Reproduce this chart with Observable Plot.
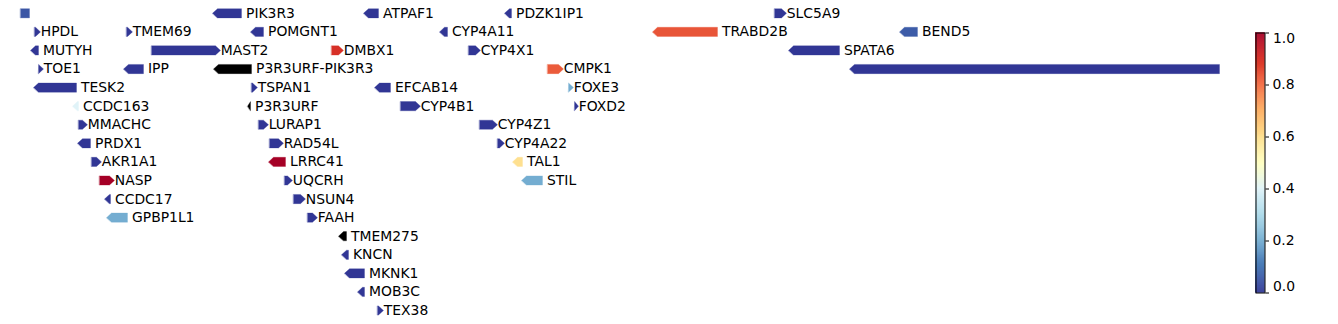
<!DOCTYPE html>
<html><head><meta charset="utf-8">
<script src="https://cdn.jsdelivr.net/npm/d3@7"></script>
<script src="https://cdn.jsdelivr.net/npm/@observablehq/plot@0.6"></script>
<style>
body{margin:0;background:#fff;}
#wrap{position:relative;width:1338px;height:324px;overflow:hidden;}
#wrap > svg{position:absolute;left:0;top:0;}
</style></head><body><div id="wrap"></div>
<script>
// Gene track data (positions in track units)
const genes   = ["", "PIK3R3","ATPAF1","PDZK1IP1","SLC5A9",
  "HPDL","TMEM69","POMGNT1","CYP4A11","TRABD2B","BEND5",
  "MUTYH","MAST2","DMBX1","CYP4X1","SPATA6",
  "TOE1","IPP","P3R3URF-PIK3R3","CMPK1","",
  "TESK2","TSPAN1","EFCAB14","FOXE3",
  "CCDC163","P3R3URF","CYP4B1","FOXD2",
  "MMACHC","LURAP1","CYP4Z1",
  "PRDX1","RAD54L","CYP4A22",
  "AKR1A1","LRRC41","TAL1",
  "NASP","UQCRH","STIL",
  "CCDC17","NSUN4",
  "GPBP1L1","FAAH",
  "TMEM275","KNCN","MKNK1","MOB3C","TEX38"];
const starts  = [20,212,363,504,774, 34,126,250,439,652,899, 30,151,331,468,788, 38,123,213,547,849,
  33,251,374,568, 72,247,400,574, 78,258,479, 77,269,497, 91,268,512, 99,284,521, 104,293, 106,307,
  338,341,344,357,377];
const ends    = [29,241,378,511,786, 40,132,263,447,717,917, 38,220,343,480,839, 43,143,251,563,1219,
  76,257,390,573, 78,250,420,578, 87,268,497, 90,283,504, 101,285,522, 114,292,542, 110,305, 127,317,
  346,348,364,364,383];
const strands = [0,-1,-1,-1,1, 1,1,-1,-1,-1,-1, -1,1,1,1,-1, 1,-1,-1,1,-1,
  -1,1,-1,1, -1,-1,1,1, 1,1,1, -1,1,1, 1,-1,-1, 1,1,-1, -1,1, -1,1,
  -1,-1,-1,-1,1];
const rows    = [0,0,0,0,0, 1,1,1,1,1,1, 2,2,2,2,2, 3,3,3,3,3, 4,4,4,4, 5,5,5,5, 6,6,6, 7,7,7,
  8,8,8, 9,9,9, 10,10, 11,11, 12,13,14,15,16];
const values  = [0.05,0,0,0,0, 0,0,0,0,0.84,0.06, 0,0,0.9,0,0, 0,0,null,0.83,0,
  0,0,0,0.2, 0.4,null,0,0, 0,0,0, 0,0,0, 0,1.0,0.6, 1.0,0,0.2, 0,0, 0.2,0,
  null,0,0,0,0];
const cbTicks  = [0, 0.2, 0.4, 0.6, 0.8, 1.0];
const cbDomain = [0, 1];
// RdYlBu (reversed) colour stops, piecewise linear
const cmapStops  = [0, 0.1, 0.2, 0.3, 0.4, 0.5, 0.6, 0.7, 0.8, 0.9, 1.0];
const cmapColors = ["#313695","#4575b4","#74add1","#abd9e9","#e0f3f8","#ffffbf","#fee090","#fdae61","#f46d43","#d73027","#a50026"];

const color = Plot.scale({color: {type: "linear", domain: cmapStops, range: cmapColors, interpolate: "rgb", clamp: true}});

const W = 1338, H = 324;
const FS = 13.9;
const rowStep = 18.575, row0 = 12.8;
const halfH = 4.6 / rowStep;   // half arrow height in row units
const headLen = 5;             // arrow head length in track units

const table = genes.map((g, i) => ({
  gene: g || ("_g" + i), label: g, start: starts[i], end: ends[i], strand: strands[i],
  row: rows[i], v: values[i],
  fill: values[i] == null ? "black" : color.apply(values[i]),
  lx: ends[i] + (strands[i] > 0 ? 0.3 : 4.5)
}));

const pts = [];
for (const d of table) {
  const h = Math.min(headLen, d.end - d.start);
  const r = d.row;
  let poly;
  if (d.strand > 0) poly = [[d.start, r - halfH], [d.end - h, r - halfH], [d.end, r], [d.end - h, r + halfH], [d.start, r + halfH]];
  else if (d.strand < 0) poly = [[d.start, r], [d.start + h, r - halfH], [d.end, r - halfH], [d.end, r + halfH], [d.start + h, r + halfH]];
  else poly = [[d.start, r - halfH], [d.end, r - halfH], [d.end, r + halfH], [d.start, r + halfH]];
  for (const [x, y] of poly) pts.push({gene: d.gene, fill: d.fill, x, y});
}

const yTop = -row0 / rowStep, yBot = (H - row0) / rowStep;

const main = Plot.plot({
  width: W, height: H, margin: 0,
  x: {domain: [0, W], range: [0, W], axis: null},
  y: {domain: [yTop, yBot], range: [0, H], axis: null},
  style: {fontFamily: "'DejaVu Sans', sans-serif", fontSize: FS + "px", background: "transparent", color: "black"},
  marks: [
    Plot.line(pts, {x: "x", y: "y", z: "gene", fill: "fill", stroke: "fill", strokeWidth: 0.3, curve: "linear-closed"}),
    Plot.text(table.filter(d => d.label), {x: "lx", y: "row", text: "label", textAnchor: "start", fill: "black", fontSize: FS})
  ]
});

// Colorbar
const cbSteps = d3.range(0, 256).map(i => {
  const a = cbDomain[0] + (cbDomain[1] - cbDomain[0]) * i / 256;
  const b = cbDomain[0] + (cbDomain[1] - cbDomain[0]) * (i + 1) / 256;
  return {a, b, c: color.apply((a + b) / 2)};
});
const fmt = d3.format(".1f");
const cb = Plot.plot({
  width: W, height: H,
  marginLeft: 1255.5, marginRight: W - 1264.5, marginTop: 32.5, marginBottom: H - 292.5,
  x: {domain: [0, 1], axis: null},
  y: {domain: cbDomain, axis: null},
  style: {fontFamily: "'DejaVu Sans', sans-serif", fontSize: FS + "px", background: "transparent", color: "black"},
  marks: [
    Plot.rect(cbSteps, {x1: 0, x2: 1, y1: "a", y2: "b", fill: "c", stroke: "c", strokeWidth: 0.5}),
    Plot.frame({stroke: "black", strokeWidth: 1}),
    Plot.axisY(cbTicks, {anchor: "right", tickSize: 3.5, tickPadding: 4, fontSize: FS, stroke: "black", fill: "black",
      tickFormat: d => (d === cbDomain[0] || d === cbDomain[1]) ? "" : fmt(d)}),
    Plot.text([cbDomain[1]], {y: d => d, frameAnchor: "right", dx: 8, textAnchor: "start", lineAnchor: "top", dy: 0, text: d => fmt(d), fontSize: FS, fill: "black"}),
    Plot.text([cbDomain[0]], {y: d => d, frameAnchor: "right", dx: 8, textAnchor: "start", lineAnchor: "bottom", dy: -2, text: d => fmt(d), fontSize: FS, fill: "black"})
  ]
});

const wrap = document.getElementById("wrap");
wrap.appendChild(main);
wrap.appendChild(cb);
</script></body></html>
